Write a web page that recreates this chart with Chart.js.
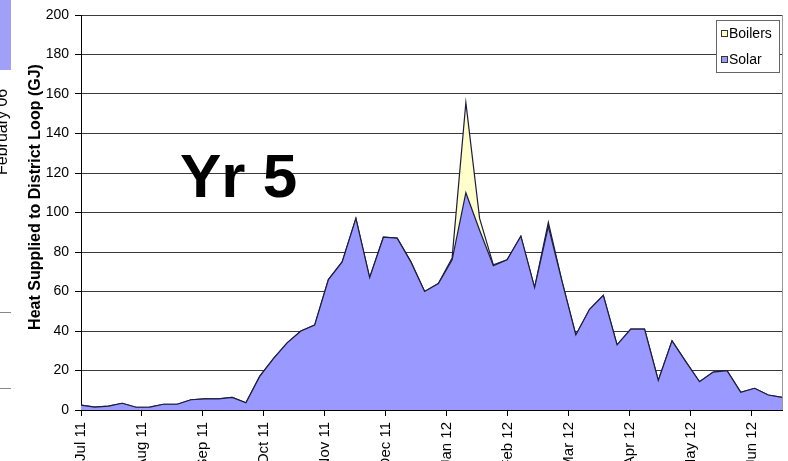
<!DOCTYPE html>
<html>
<head>
<meta charset="utf-8">
<script src="https://cdn.jsdelivr.net/npm/chart.js@4.4.0/dist/chart.umd.min.js"></script>
<style>
  html, body { margin: 0; padding: 0; background: #fff; overflow: hidden; }
  canvas { display: block; }
</style>
</head>
<body>
<canvas id="heatChart" width="788" height="461"></canvas>
<script>
// === Data (weekly, Jul 2011 - Jun 2012) ===
const monthLabels = ["Jul 11", "Aug 11", "Sep 11", "Oct 11", "Nov 11", "Dec 11",
  "Jan 12", "Feb 12", "Mar 12", "Apr 12", "May 12", "Jun 12"];

const solar = [2.5, 1.5, 2, 3.4, 1.4, 1.5, 2.9, 2.9, 5.2, 5.6, 5.6, 6.4, 3.7,
  17, 26, 34, 40, 43, 66, 75, 97, 67, 87.5, 87,
  75, 60, 64, 76, 110, 91, 73, 76, 88, 62,
  93, 65, 38, 51, 58, 33, 41, 41,
  15, 35, 24.5, 14.3, 19.2, 19.9, 9, 11, 7.6, 6.4];

const boilers = [0, 0, 0, 0, 0, 0, 0, 0, 0, 0, 0, 0, 0,
  0, 0, 0, 0, 0, 0, 0, 0, 0, 0, 0,
  0, 0, 0, 1, 45.6, 6, 0.5, 0, 0, 0,
  2, 0, 0, 0, 0, 0, 0, 0,
  0, 0, 0, 0, 0, 0, 0, 0, 0, 0];

const weekIndex = solar.map((_, i) => i);
const yTicksMax = 200;
const yTicksStep = 20;

const FONT = "Arial, 'Liberation Sans', sans-serif";

// === Decorations: axis title, big label, legend, slide remnants ===
const decor = {
  id: "decor",
  afterDraw(chart) {
    const c = chart.ctx;
    const area = chart.chartArea;
    c.save();

    // right plot border
    c.strokeStyle = "#9a9a9a";
    c.lineWidth = 1;
    c.beginPath();
    c.moveTo(area.right + 0.5, area.top);
    c.lineTo(area.right + 0.5, area.bottom);
    c.stroke();

    // y axis title
    c.save();
    c.translate(36, 197);
    c.rotate(-Math.PI / 2);
    c.fillStyle = "#000";
    c.font = "bold 16px " + FONT;
    c.textAlign = "center";
    c.textBaseline = "middle";
    c.fillText("Heat Supplied to District Loop (GJ)", 0, 0);
    c.restore();

    // big "Yr 5"
    c.fillStyle = "#000";
    c.font = "bold 62px " + FONT;
    c.textAlign = "left";
    c.textBaseline = "alphabetic";
    c.fillText("Yr 5", 180, 197);

    // legend
    c.fillStyle = "#fff";
    c.fillRect(716.5, 20.5, 63, 52);
    c.strokeStyle = "#666";
    c.strokeRect(716.5, 20.5, 63, 52);
    const items = [
      { label: "Boilers", color: "#FFFFCC", y: 34 },
      { label: "Solar", color: "#9999FF", y: 60 }
    ];
    c.font = "14px " + FONT;
    c.textBaseline = "middle";
    items.forEach(it => {
      c.fillStyle = it.color;
      c.fillRect(721.5, it.y - 3.5, 6, 6);
      c.strokeStyle = "#333";
      c.strokeRect(721.5, it.y - 3.5, 6, 6);
      c.fillStyle = "#000";
      c.fillText(it.label, 729, it.y);
    });

    // left edge remnants of the slide
    c.fillStyle = "#a0a0f8";
    c.fillRect(0, 0, 11, 70);
    c.strokeStyle = "#888";
    c.beginPath();
    c.moveTo(0, 312.5); c.lineTo(11, 312.5);
    c.moveTo(0, 388.5); c.lineTo(11, 388.5);
    c.stroke();
    c.save();
    c.translate(7, 175);
    c.rotate(-Math.PI / 2);
    c.fillStyle = "#000";
    c.font = "16px " + FONT;
    c.textAlign = "left";
    c.textBaseline = "alphabetic";
    c.fillText("February 06", 0, 0);
    c.restore();

    c.restore();
  }
};

// === Chart ===
const ctx = document.getElementById("heatChart").getContext("2d");
const heatChart = new Chart(ctx, {
  type: "line",
  data: {
    datasets: [
      {
        label: "Solar",
        data: weekIndex.map(i => ({ x: i, y: solar[i] })),
        borderColor: "#1c1c3c",
        borderWidth: 1.2,
        backgroundColor: "#9999FF",
        fill: "origin",
        pointRadius: 0,
        tension: 0
      },
      {
        label: "Boilers",
        data: weekIndex.map(i => ({ x: i, y: boilers[i] })),
        borderColor: "#1c1c3c",
        borderWidth: 1.2,
        backgroundColor: "#FFFFCC",
        fill: "-1",
        pointRadius: 0,
        tension: 0
      }
    ]
  },
  options: {
    responsive: false,
    animation: false,
    devicePixelRatio: 1,
    layout: { padding: { top: 15, right: 6, left: 0, bottom: 0 } },
    plugins: {
      legend: { display: false },
      tooltip: { enabled: false },
      title: { display: false }
    },
    scales: {
      x: {
        type: "linear",
        min: 0,
        max: weekIndex.length - 1,
        afterBuildTicks: scale => {
          const span = (weekIndex.length - 1) / 11.5;
          scale.ticks = monthLabels.map((_, k) => ({ value: k * span }));
        },
        afterFit: scale => { scale.height = 51; },
        ticks: {
          autoSkip: false,
          minRotation: 90,
          maxRotation: 90,
          padding: 6,
          color: "#000",
          font: { family: FONT, size: 15 },
          callback: (value, index) => monthLabels[index]
        },
        grid: {
          drawOnChartArea: false,
          drawTicks: true,
          tickLength: 6,
          tickColor: "#000"
        },
        border: { color: "#000", width: 1 }
      },
      y: {
        stacked: true,
        min: 0,
        max: yTicksMax,
        afterFit: scale => { scale.width = 81; },
        ticks: {
          stepSize: yTicksStep,
          padding: 6,
          color: "#000",
          font: { family: FONT, size: 14 }
        },
        grid: {
          color: "#3a3a3a",
          lineWidth: 1,
          tickLength: 6,
          tickColor: "#000"
        },
        border: { color: "#000", width: 1 }
      }
    }
  },
  plugins: [decor]
});
</script>
</body>
</html>
